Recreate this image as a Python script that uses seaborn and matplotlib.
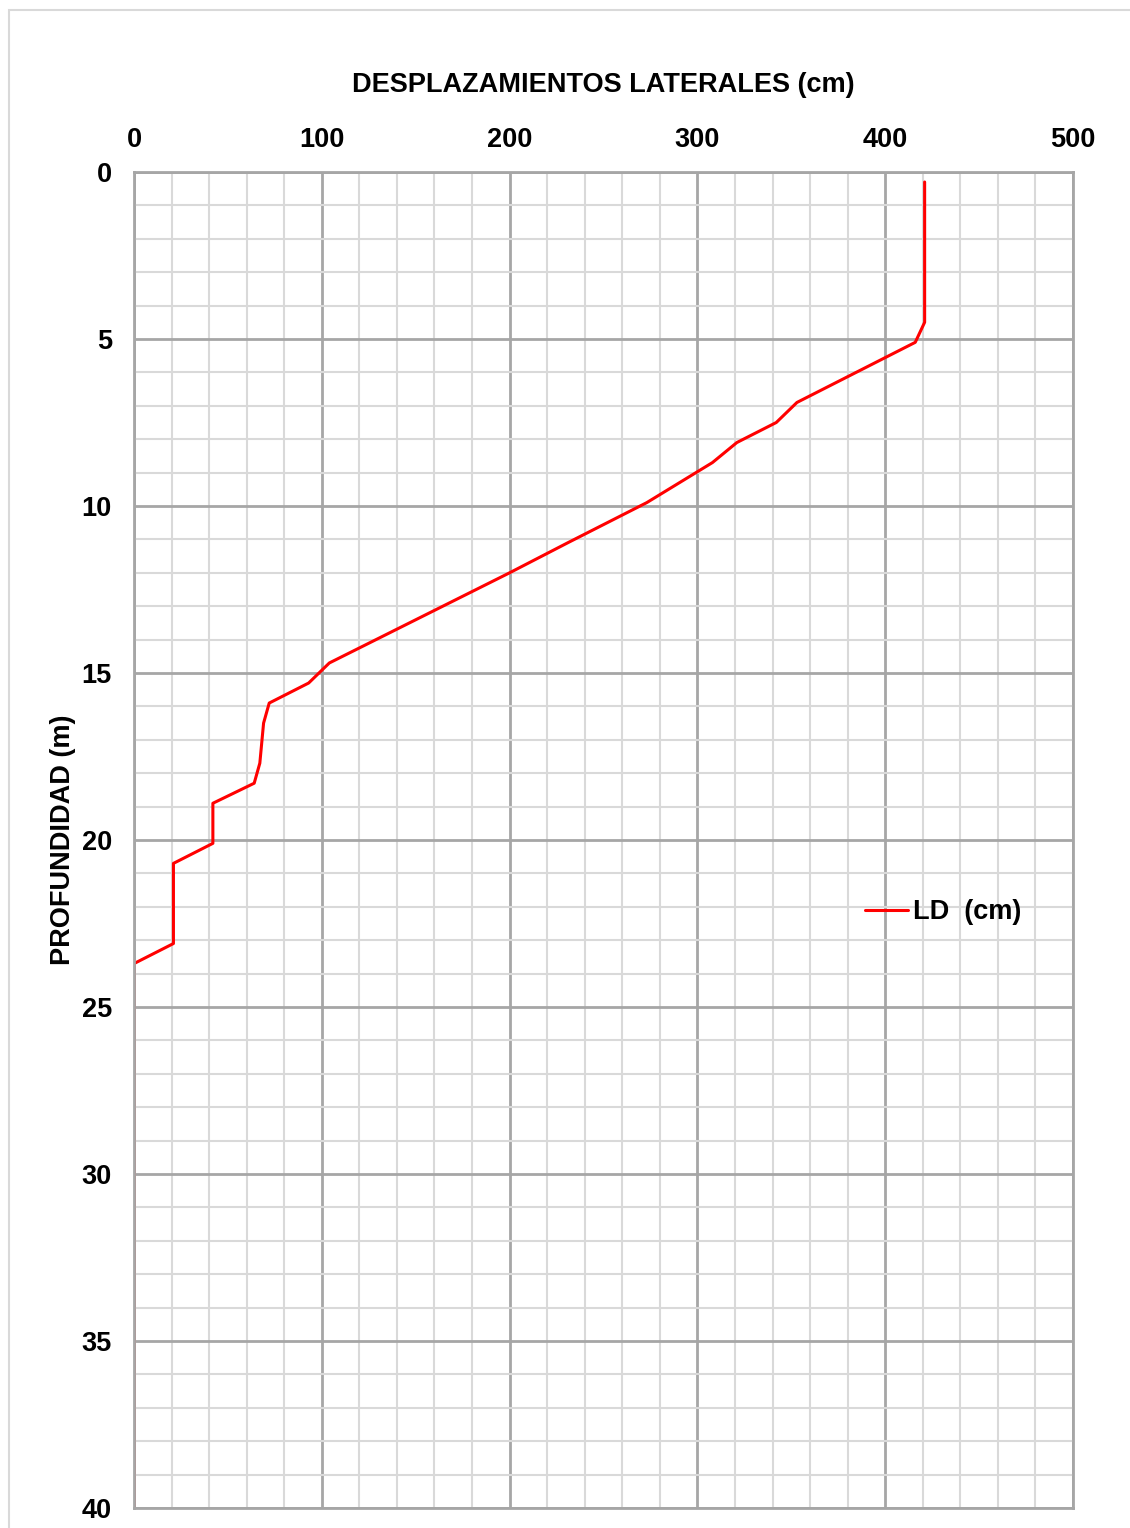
import matplotlib
matplotlib.use("Agg")
import matplotlib.pyplot as plt
from matplotlib.patches import Rectangle
from matplotlib.ticker import MultipleLocator
import numpy as np
import pandas as pd
import seaborn as sns

# profundidad (m) y desplazamiento lateral (cm)
depth = [0.3, 4.5, 5.1, 6.9, 7.5, 8.1, 8.7, 9.9, 11.1, 12.0, 14.7, 15.3,
         15.9, 16.5, 17.7, 18.3, 18.9, 20.1, 20.7, 23.1, 23.7, 40.0]
ld_cm = [421, 421, 416, 353, 342, 321, 308, 273, 231, 200, 104, 93,
         72, 69, 67, 64, 42, 42, 21, 21, 0, 0]

x_ticks = [0, 100, 200, 300, 400, 500]
y_ticks = [0, 5, 10, 15, 20, 25, 30, 35, 40]


def main():
    sns.set_style("white")
    plt.rcParams["font.family"] = ["Liberation Sans", "DejaVu Sans"]
    plt.rcParams["font.weight"] = "bold"
    plt.rcParams["text.color"] = "black"
    plt.rcParams["xtick.color"] = "black"
    plt.rcParams["ytick.color"] = "black"
    plt.rcParams["axes.labelcolor"] = "black"

    df = pd.DataFrame({"depth": depth, "ld": ld_cm})

    fig = plt.figure(figsize=(11.3, 15.28), dpi=100)
    ax = fig.add_axes([134 / 1130, 1 - 1508 / 1528, 939 / 1130, 1336 / 1528])

    # marco exterior del grafico
    fig.patches.append(Rectangle((9 / 1130, -0.01), 1.02, 1 - 10 / 1528 + 0.01,
                                 transform=fig.transFigure, fill=False,
                                 edgecolor="#d9d9d9", linewidth=1.5))

    sns.lineplot(data=df, x="ld", y="depth", sort=False, estimator=None,
                 color="#ff0000", linewidth=2.2, label="LD  (cm)", ax=ax)

    ax.set_xlim(0, 500)
    ax.set_ylim(40, 0)
    ax.xaxis.tick_top()
    ax.xaxis.set_label_position("top")
    ax.set_xticks(x_ticks)
    ax.set_yticks(y_ticks)
    ax.xaxis.set_minor_locator(MultipleLocator(20))
    ax.yaxis.set_minor_locator(MultipleLocator(1))
    ax.grid(which="minor", color="#d9d9d9", linewidth=1.5, zorder=0)
    ax.grid(which="major", color="#a6a6a6", linewidth=2, zorder=0)
    ax.set_axisbelow(True)
    ax.tick_params(which="both", length=0)
    ax.tick_params(axis="x", pad=14, labelsize=19.5)
    ax.tick_params(axis="y", pad=16, labelsize=19.5)
    for s in ax.spines.values():
        s.set_color("#a6a6a6")
        s.set_linewidth(2)

    ax.set_xlabel("DESPLAZAMIENTOS LATERALES (cm)", fontsize=19.5,
                  fontweight="bold", labelpad=25)
    ax.set_ylabel("PROFUNDIDAD (m)", fontsize=19.5, fontweight="bold", labelpad=4)

    leg = ax.legend(loc="center left", bbox_to_anchor=(0.752, 0.446),
                    frameon=False, fontsize=19.5, handlelength=1.6,
                    handletextpad=0.2)
    for t in leg.get_texts():
        t.set_fontweight("bold")

    fig.savefig("out.png", dpi=100)
    plt.close()


if __name__ == "__main__":
    main()
